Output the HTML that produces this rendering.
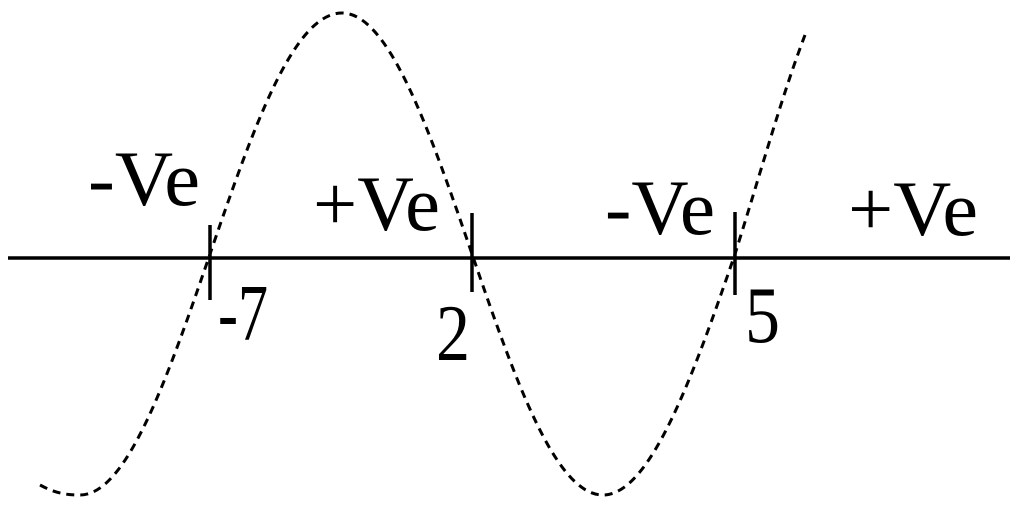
<!DOCTYPE html>
<html><head><meta charset="utf-8"><style>
html,body{margin:0;padding:0;background:#fff;}
svg{display:block;}
text{font-family:"Liberation Serif",serif;fill:#000;}
</style></head><body>
<svg width="1018" height="510" viewBox="0 0 1018 510" xmlns="http://www.w3.org/2000/svg">
<line x1="8" y1="258" x2="1010" y2="258" stroke="#000" stroke-width="3.5"/>
<line x1="210" y1="225" x2="210" y2="300" stroke="#000" stroke-width="3.5"/>
<line x1="472" y1="213" x2="472" y2="292" stroke="#000" stroke-width="3.5"/>
<line x1="735" y1="212" x2="735" y2="295" stroke="#000" stroke-width="3.5"/>
<path d="M40,485 C55,493 65,495 80,495 C127,495 167.6,377.5 210,254 C252.4,130.5 293,13 342,13 C389,13 429.6,130.5 472,254 C514.4,377.5 555,495 603,495 C650,495 692.6,377.5 735,254 C760,175 782,95 805,35" fill="none" stroke="#000" stroke-width="3" stroke-dasharray="8,6"/>
<text x="88" y="205" font-size="78" textLength="112" lengthAdjust="spacingAndGlyphs">-Ve</text>
<text x="313" y="230" font-size="78" textLength="127" lengthAdjust="spacingAndGlyphs">+Ve</text>
<text x="605" y="234" font-size="78" textLength="110" lengthAdjust="spacingAndGlyphs">-Ve</text>
<text x="848" y="235" font-size="78" textLength="130" lengthAdjust="spacingAndGlyphs">+Ve</text>
<text x="218" y="340" font-size="80" textLength="50" lengthAdjust="spacingAndGlyphs">-7</text>
<text x="436" y="360" font-size="80" textLength="34" lengthAdjust="spacingAndGlyphs">2</text>
<text x="745" y="342" font-size="80" textLength="35" lengthAdjust="spacingAndGlyphs">5</text>
</svg>
</body></html>
